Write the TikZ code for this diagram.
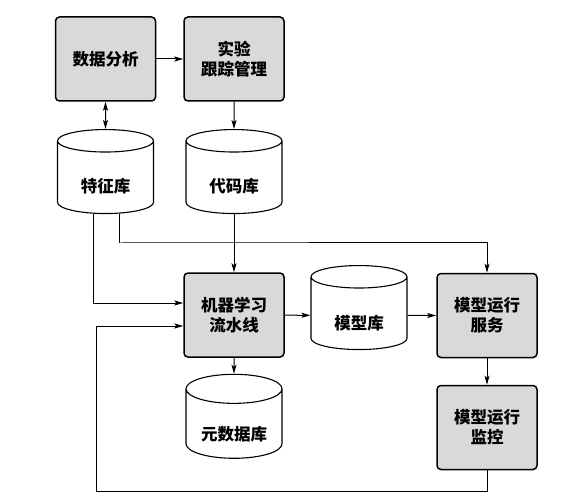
\documentclass[tikz,border=0pt]{standalone}
\usepackage{fontspec}
\newfontfamily\cjk{Noto Sans CJK SC}
\usetikzlibrary{
    arrows.meta,
    positioning,
    shapes.geometric
}
\tikzset{
    % Colors
    box color/.style={fill=black!15},
    %
    % Nodes
    box/.style={draw,box color,line width=1.5pt,rounded corners=4pt,minimum width=100pt,minimum height=84pt,align=center},
    store/.style={draw,line width=1.1pt,fill=white,cylinder,shape border rotate=90,aspect=0.4,minimum width=96pt,minimum height=84pt,text height=27pt,text depth=0pt},
    %
    % Arrows
    arrow tip/.tip={Stealth[length=9pt,width=5pt,inset=2pt]},
    arr/.style={->,>={arrow tip},line width=1pt},
    darr/.style={<->,>={arrow tip},line width=1pt},
}
\tikzstyle{every node}=[font=\cjk\bfseries\fontsize{16.5}{20}\selectfont]

\begin{document}
\begin{tikzpicture}[x=1pt,y=-1pt]
        \useasboundingbox (0,0) rectangle (587,500);
        % top row
        \node[box] (analysis) at (105.5,59) {数据分析};
        \node[box] (tracking) at (234,59) {实验\\跟踪管理};
        \node[store] (features) at (105.5,179.5) {特征库};
        \node[store] (code) at (234,179.5) {代码库};
        % middle row
        \node[box] (pipeline) at (234,315) {机器学习\\流水线};
        \node[store] (models) at (359,315.5) {模型库};
        \node[box] (serving) at (487,315.5) {模型运行\\服务};
        % bottom row
        \node[store] (meta) at (234,426.5) {元数据库};
        \node[box] (monitor) at (487,427.5) {模型运行\\监控};
        % bends of the long lines
        \coordinate (top bus) at (119,243);
        \coordinate (loop) at (96,491);

        \draw[darr] (analysis) -- (features);
        \draw[arr] (analysis.east) -- (analysis.east -| tracking.west);
        \draw[arr] (tracking) -- (code);
        \draw[arr] (code) -- (pipeline);
        \draw[arr] (pipeline) -- (meta);
        \draw[arr] (pipeline) -- (models);
        \draw[arr] (models) -- (serving);
        \draw[arr] (serving) -- (monitor);
        \draw[arr] ([xshift=-12pt]features.south) |- ([yshift=12pt]pipeline.west);
        \draw[arr] ([xshift=14pt]features.south) |- (top bus) -| (serving.north);
        \draw[arr] (monitor.south) |- (loop) |- ([yshift=-11pt]pipeline.west);
\end{tikzpicture}
\end{document}
